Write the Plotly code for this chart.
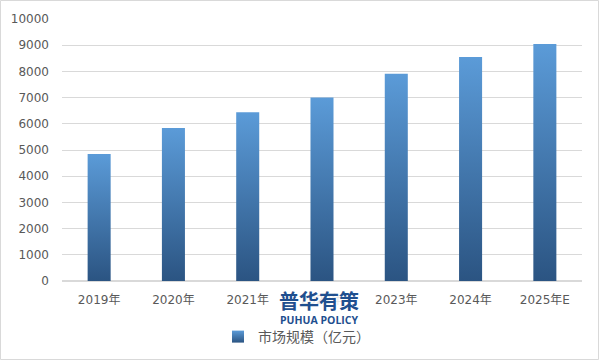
import plotly.graph_objects as go

categories = ["2019年", "2020年", "2021年", "2022年", "2023年", "2024年", "2025年E"]
values = [4850, 5840, 6440, 7000, 7910, 8550, 9050]
series_name = "市场规模（亿元）"
y_ticks = [0, 1000, 2000, 3000, 4000, 5000, 6000, 7000, 8000, 9000, 10000]
y_tick_labels = [str(v) for v in y_ticks]

DARK = "#2b5482"
LIGHT = "#5b9bd8"
HALF_W = 0.155
FONT = "DejaVu Sans, Noto Sans CJK SC"
CJK = "Noto Sans CJK SC"
TXT = "#595959"

W, H = 600, 361
L, R, T, B = 62, 18, 19, 80
PW, PH = W - L - R, H - T - B

fig = go.Figure()
for i, (c, v) in enumerate(zip(categories, values)):
    fig.add_trace(go.Scatter(
        x=[i - HALF_W, i - HALF_W, i + HALF_W, i + HALF_W, i - HALF_W],
        y=[0, v, v, 0, 0],
        mode="lines", line=dict(width=0), fill="toself",
        fillgradient=dict(type="vertical", start=0, stop=v,
                          colorscale=[[0, DARK], [1, LIGHT]]),
        showlegend=False, hoverinfo="skip", name=c,
    ))

fig.add_trace(go.Scatter(
    x=[None], y=[None], mode="markers", name=series_name,
    marker=dict(symbol="square", size=8, color=LIGHT,
                gradient=dict(type="vertical", color=DARK)),
))

fig.update_layout(
    width=W, height=H,
    margin=dict(l=L, r=R, t=T, b=B, autoexpand=False),
    paper_bgcolor="white", plot_bgcolor="white",
    font=dict(family=FONT, size=12, color=TXT),
    showlegend=True,
    legend=dict(orientation="h", x=(218 - L) / PW, xanchor="left",
                y=(H - B - 337) / PH, yanchor="middle",
                font=dict(family=CJK, size=14, color=TXT), itemsizing="constant",
                bgcolor="rgba(0,0,0,0)"),
    xaxis=dict(range=[-0.5, len(categories) - 0.5], tickvals=list(range(len(categories))),
               ticktext=categories, showgrid=False, zeroline=False, showline=False,
               ticks="", ticklabelstandoff=10, tickfont=dict(size=12, color=TXT)),
    yaxis=dict(range=[0, 10000], tickvals=y_ticks, ticktext=y_tick_labels,
               showgrid=True, gridcolor="#d9d9d9",
               gridwidth=1, zeroline=True, zerolinecolor="#d9d9d9", showline=False,
               ticks="", ticklabelstandoff=12, tickfont=dict(size=12, color=TXT)),
)

# outer chart border
fig.add_shape(type="rect", xref="paper", yref="paper",
              x0=(0.5 - L) / PW, x1=(W - 1.5 - L) / PW,
              y0=(H - B - (H - 1.5)) / PH, y1=(H - B - 0.5) / PH,
              line=dict(color="#d9d9d9", width=1), fillcolor="rgba(0,0,0,0)", layer="below")

# watermark
fig.add_annotation(xref="paper", yref="paper", x=(319 - L) / PW, y=(H - B - 300) / PH,
                   xanchor="center", yanchor="middle",
                   text="<b>普华有策</b>", showarrow=False,
                   font=dict(family=CJK, size=20, color="#1f4f8f"),
                   bgcolor="rgba(255,255,255,0.85)", borderpad=0)
fig.add_annotation(xref="paper", yref="paper", x=(319 - L) / PW, y=(H - B - 320) / PH,
                   xanchor="center", yanchor="middle",
                   text="<b>PUHUA POLICY</b>", showarrow=False,
                   font=dict(family="Open Sans", size=10.5, color="#1f4f8f"))

fig.write_html("out.html")
